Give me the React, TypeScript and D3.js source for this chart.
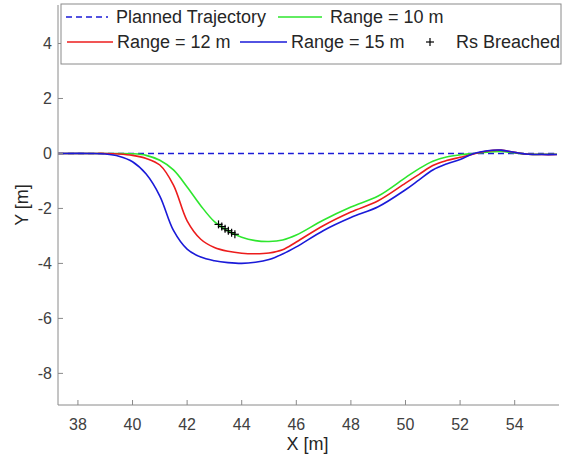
import React from "react";
import * as d3 from "d3";

const xGrid = [37.27, 38.5, 39.0, 39.5, 40.0, 40.5, 41.0, 41.5, 42.0, 42.5, 43.0, 43.5, 44.0, 44.5, 45.0, 45.5, 46.0, 47.0, 48.0, 49.0, 50.0, 50.5, 51.0, 51.5, 52.0, 52.5, 53.0, 53.5, 54.0, 54.5, 55.0, 55.55];
const planned = xGrid.map(() => 0);
const range10 = [0, 0, 0, 0, -0.01, -0.07, -0.25, -0.6, -1.22, -1.9, -2.48, -2.82, -3.05, -3.17, -3.2, -3.15, -2.97, -2.42, -1.95, -1.55, -0.88, -0.55, -0.28, -0.13, -0.05, 0.0, 0.05, 0.07, 0.02, -0.03, -0.03, -0.03];
const range12 = [0, 0, 0, -0.02, -0.07, -0.18, -0.42, -1.15, -2.45, -3.12, -3.42, -3.56, -3.63, -3.65, -3.62, -3.5, -3.22, -2.62, -2.13, -1.72, -1.08, -0.76, -0.44, -0.26, -0.14, -0.02, 0.09, 0.12, 0.04, -0.03, -0.04, -0.04];
const range15 = [0, 0, -0.02, -0.1, -0.3, -0.75, -1.55, -2.8, -3.48, -3.77, -3.9, -3.97, -4.0, -3.96, -3.86, -3.66, -3.4, -2.8, -2.33, -1.94, -1.32, -0.96, -0.6, -0.38, -0.22, 0.0, 0.1, 0.12, 0.04, -0.03, -0.04, -0.04];
const breachX = [43.15, 43.27, 43.39, 43.51, 43.63, 43.75];
const breachY = [-2.58, -2.66, -2.74, -2.81, -2.88, -2.94];
const xTicks = [38, 40, 42, 44, 46, 48, 50, 52, 54];
const yTicks = [-8, -6, -4, -2, 0, 2, 4];

const W = 572, H = 454;
const left = 58, right = 557, top = 5, bottom = 405;
const FONT = "'Liberation Sans', Arial, sans-serif";

export default function App() {
  const x = d3.scaleLinear().domain([37.27, 55.55]).range([left, right]);
  const y = d3.scaleLinear().domain([-9.15, 5.4]).range([bottom, top]);
  const line = d3.line<number>()
    .x((_, i) => x(xGrid[i]))
    .y((d) => y(d))
    .curve(d3.curveCatmullRom.alpha(0.5));

  const series = [
    { name: "Range = 10 m", data: range10, color: "#2ee62e" },
    { name: "Range = 12 m", data: range12, color: "#ec1c1c" },
    { name: "Range = 15 m", data: range15, color: "#1a1ad8" },
  ];

  const textColor = "#262626";
  const axisColor = "#8a8a8a";

  return (
    <svg width={W} height={H} style={{ position: "absolute", left: 0, top: 0, background: "#fff" }} fontFamily={FONT}>
      <rect x={0} y={0} width={W} height={H} fill="#fff" />
      <defs>
        <clipPath id="plotclip">
          <rect x={left} y={top} width={right - left} height={bottom - top} />
        </clipPath>
      </defs>
      <g clipPath="url(#plotclip)">
        <path d={line(planned) || ""} fill="none" stroke="#1a1ad8" strokeWidth={1.6} strokeDasharray="6,4" />
        {series.map((s) => (
          <path key={s.name} d={line(s.data) || ""} fill="none" stroke={s.color} strokeWidth={1.6} />
        ))}
        {breachX.map((bx, i) => {
          const cx = x(bx), cy = y(breachY[i]);
          return (
            <g key={i} stroke="#000" strokeWidth={1.2}>
              <line x1={cx - 4} x2={cx + 4} y1={cy} y2={cy} />
              <line x1={cx} x2={cx} y1={cy - 4} y2={cy + 4} />
            </g>
          );
        })}
      </g>
      <line x1={left} x2={left} y1={top} y2={bottom} stroke={axisColor} strokeWidth={1} />
      <line x1={left} x2={right + 2} y1={bottom} y2={bottom} stroke={axisColor} strokeWidth={1} />
      {xTicks.map((t) => (
        <g key={t}>
          <line x1={x(t)} x2={x(t)} y1={bottom} y2={bottom - 5} stroke={axisColor} />
          <text x={x(t)} y={430} textAnchor="middle" fontSize={16} fill="#404040">{t}</text>
        </g>
      ))}
      {yTicks.map((t) => (
        <g key={t}>
          <line x1={left} x2={left + 5} y1={y(t)} y2={y(t)} stroke={axisColor} />
          <text x={52} y={y(t)} dy="0.35em" textAnchor="end" fontSize={16} fill="#404040">{t}</text>
        </g>
      ))}
      <text x={(left + right) / 2} y={450} textAnchor="middle" fontSize={18} fill={textColor}>X [m]</text>
      <text transform={`translate(28,${(top + bottom) / 2}) rotate(-90)`} textAnchor="middle" fontSize={18} fill={textColor}>Y [m]</text>
      <rect x={61} y={4} width={500} height={60} fill="#fff" stroke={axisColor} strokeWidth={1} />
      <g fontSize={18} fill={textColor}>
        <line x1={66} x2={108} y1={17} y2={17} stroke="#1a1ad8" strokeWidth={1.6} strokeDasharray="6,4" />
        <text x={116} y={17} dy="0.35em">Planned Trajectory</text>
        <line x1={278} x2={322} y1={17} y2={17} stroke={series[0].color} strokeWidth={1.6} />
        <text x={330} y={17} dy="0.35em">{series[0].name}</text>
        <line x1={67} x2={113} y1={42} y2={42} stroke={series[1].color} strokeWidth={1.6} />
        <text x={117} y={42} dy="0.35em">{series[1].name}</text>
        <line x1={240} x2={287} y1={42} y2={42} stroke={series[2].color} strokeWidth={1.6} />
        <text x={291} y={42} dy="0.35em">{series[2].name}</text>
        <g stroke="#000" strokeWidth={1.2}>
          <line x1={426} x2={434} y1={42} y2={42} />
          <line x1={430} x2={430} y1={38} y2={46} />
        </g>
        <text x={456} y={42} dy="0.35em">Rs Breached</text>
      </g>
    </svg>
  );
}
